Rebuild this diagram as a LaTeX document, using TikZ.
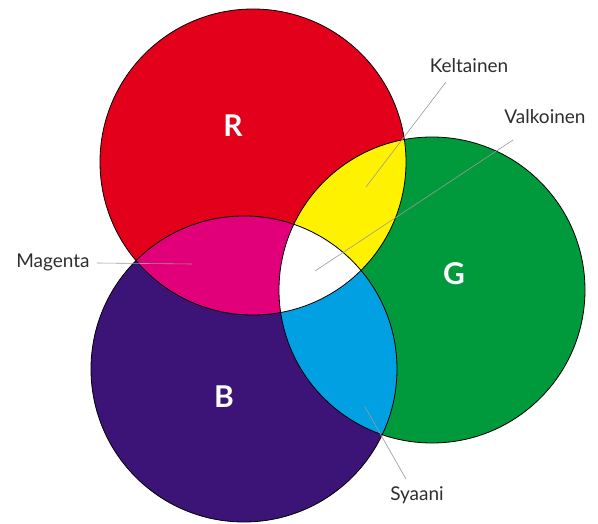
\documentclass[tikz,border=0pt]{standalone}
\usepackage{fontspec}
\setmainfont{Lato}
\definecolor{cR}{HTML}{E2001A}
\definecolor{cG}{HTML}{009A3D}
\definecolor{cB}{HTML}{3C1478}
\definecolor{cY}{HTML}{FFF200}
\definecolor{cM}{HTML}{E2007A}
\definecolor{cC}{HTML}{00A0E3}
\definecolor{txt}{HTML}{2E2E2E}
\begin{document}
\begin{tikzpicture}[x=1pt,y=-1pt,
  outline/.style={draw=black,line width=0.8pt},
  lead/.style={draw=gray!80,line width=0.6pt},
  lbl/.style={text=txt,font=\fontsize{19}{19}\selectfont,inner sep=0pt},
  big/.style={text=white,font=\fontsize{30}{30}\selectfont\bfseries,inner sep=0pt}]
\useasboundingbox (0,0) rectangle (598,524);
\def\rad{153}
\coordinate (cr) at (253,162);
\coordinate (cg) at (432,290);
\coordinate (cb) at (244,369);
\fill[cR] (cr) circle (\rad);
\fill[cG] (cg) circle (\rad);
\fill[cB] (cb) circle (\rad);
\begin{scope}\clip (cr) circle (\rad); \fill[cY] (cg) circle (\rad); \end{scope}
\begin{scope}\clip (cr) circle (\rad); \fill[cM] (cb) circle (\rad); \end{scope}
\begin{scope}\clip (cg) circle (\rad); \fill[cC] (cb) circle (\rad); \end{scope}
\begin{scope}\clip (cr) circle (\rad); \clip (cg) circle (\rad); \fill[white] (cb) circle (\rad); \end{scope}
\draw[outline] (cr) circle (\rad);
\draw[outline] (cg) circle (\rad);
\draw[outline] (cb) circle (\rad);
\node[big] (R) at (233,126) {R};
\node[big] (G) at (454,274) {G};
\node[big] (B) at (224,397) {B};
\node[lbl] (kel) at (469,66) {Keltainen};
\node[lbl] (val) at (545,117) {Valkoinen};
\node[lbl] (mag) at (53,262) {Magenta};
\node[lbl] (sya) at (417,495) {Syaani};
\coordinate (kelE) at (366,187);
\coordinate (valE) at (315,271);
\coordinate (magE) at (192,264);
\coordinate (syaE) at (365,407);
\coordinate (kelS) at (446,82);
\coordinate (valS) at (513,140);
\coordinate (magS) at (97,263);
\coordinate (syaS) at (406,479);
\draw[lead] (kelS) -- (kelE);
\draw[lead] (valS) -- (valE);
\draw[lead] (magS) -- (magE);
\draw[lead] (syaS) -- (syaE);
\end{tikzpicture}
\end{document}
